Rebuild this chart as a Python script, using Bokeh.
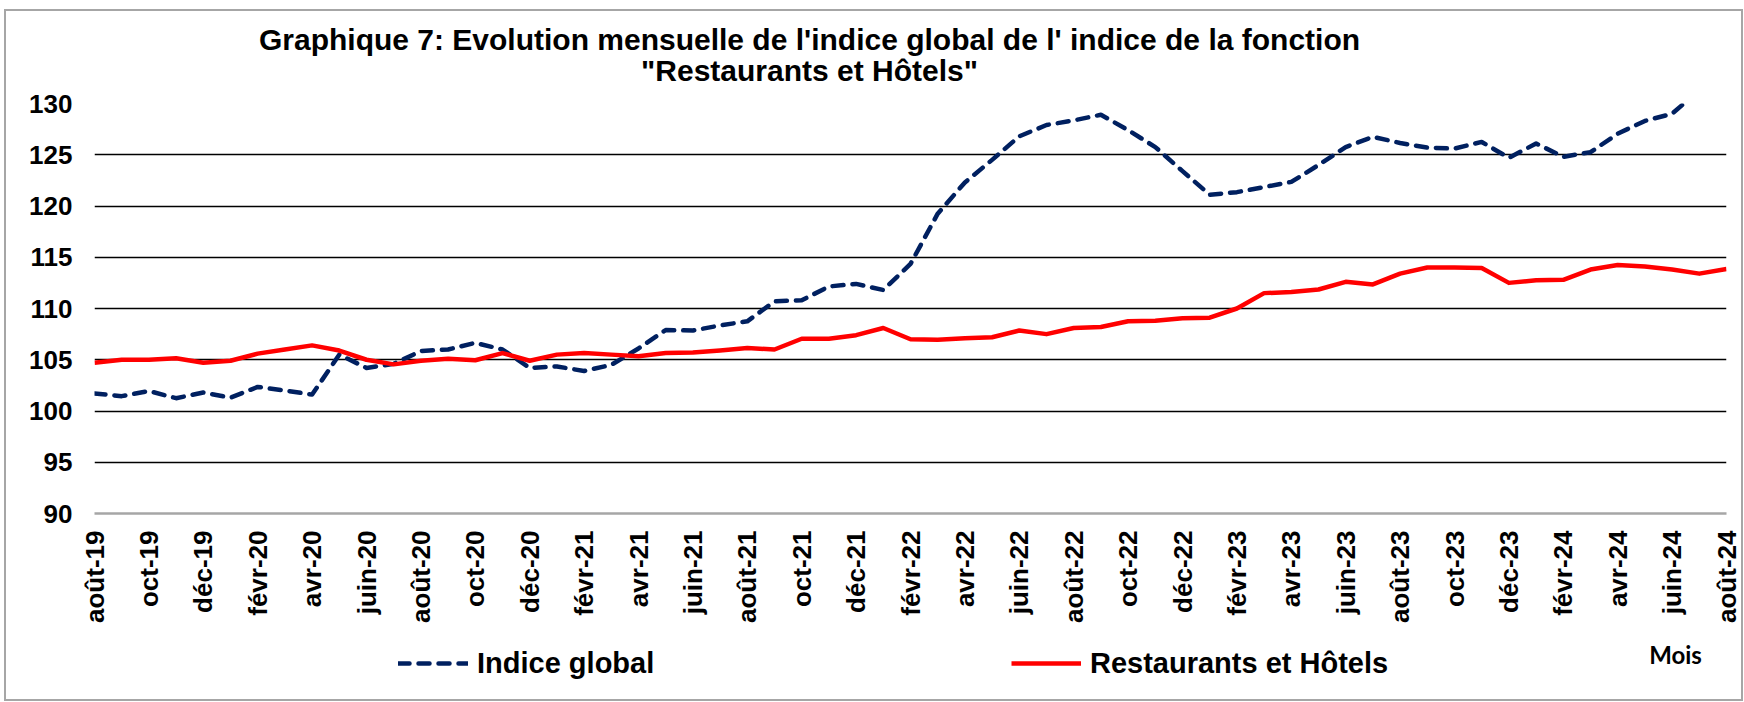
from bokeh.plotting import figure
from bokeh.layouts import column
from bokeh.models import Range1d, FixedTicker, Label, Legend, LegendItem, InlineStyleSheet
from bokeh.embed import file_html
from bokeh.resources import INLINE

months = [
    "août-19", "sept-19", "oct-19", "nov-19", "déc-19",
    "janv-20", "févr-20", "mars-20", "avr-20", "mai-20", "juin-20", "juil-20", "août-20", "sept-20", "oct-20", "nov-20", "déc-20",
    "janv-21", "févr-21", "mars-21", "avr-21", "mai-21", "juin-21", "juil-21", "août-21", "sept-21", "oct-21", "nov-21", "déc-21",
    "janv-22", "févr-22", "mars-22", "avr-22", "mai-22", "juin-22", "juil-22", "août-22", "sept-22", "oct-22", "nov-22", "déc-22",
    "janv-23", "févr-23", "mars-23", "avr-23", "mai-23", "juin-23", "juil-23", "août-23", "sept-23", "oct-23", "nov-23", "déc-23",
    "janv-24", "févr-24", "mars-24", "avr-24", "mai-24", "juin-24", "juil-24", "août-24",
]

indice_global = [
    101.7, 101.45, 101.95, 101.25, 101.8,
    101.3, 102.35, 102.0, 101.6, 105.5, 104.2, 104.6, 105.85, 106.0, 106.65, 106.0, 104.2,
    104.35, 103.9, 104.5, 106.1, 107.9, 107.85, 108.35, 108.75, 110.7, 110.8, 112.15, 112.4,
    111.8, 114.35, 119.25, 122.3, 124.5, 126.8, 127.9, 128.35, 128.9, 127.4, 125.75, 123.4,
    121.1, 121.35, 121.85, 122.35, 124.0, 125.75, 126.75, 126.15, 125.7, 125.6, 126.25, 124.7,
    126.1, 124.8, 125.25, 127.05, 128.3, 129.0, 131.3, 131.8,
]

restaurants_hotels = [
    104.7, 105.0, 105.0, 105.15, 104.7,
    104.9, 105.6, 106.0, 106.4, 105.9, 105.0, 104.55, 104.9, 105.1, 104.95, 105.65, 104.9,
    105.5, 105.65, 105.5, 105.35, 105.65, 105.7, 105.9, 106.15, 106.0, 107.05, 107.05, 107.4,
    108.1, 107.0, 106.95, 107.1, 107.2, 107.85, 107.5, 108.1, 108.2, 108.75, 108.8, 109.05,
    109.1, 110.0, 111.5, 111.6, 111.85, 112.6, 112.35, 113.4, 114.0, 114.0, 113.95, 112.5,
    112.75, 112.8, 113.8, 114.25, 114.1, 113.8, 113.4, 113.85,
]

y_ticks = [90, 95, 100, 105, 110, 115, 120, 125, 130]

title_line1 = "Graphique 7: Evolution mensuelle de l'indice global de l' indice de la fonction"
title_line2 = '"Restaurants et Hôtels"'
x_title = "Mois"
series_names = ["Indice global", "Restaurants et Hôtels"]

FONT = "Liberation Sans"
BLUE = "#002060"
RED = "#ff0000"
W = 1744
BL, BR = 94, 18            # left / right borders shared by the stacked figures
H_TOP, H_MAIN, H_BOT = 88, 540, 74

x = list(range(len(months)))


def strip(h):
    # text band; x in page pixels (frame aligned with the main chart's frame)
    f = figure(width=W, height=h, output_backend="svg", toolbar_location=None,
               x_axis_type=None, y_axis_type=None, min_border=0,
               min_border_left=BL, min_border_right=BR,
               x_range=Range1d(BL, W - BR), y_range=Range1d(0, h))
    f.outline_line_color = None
    f.background_fill_color = "white"
    f.border_fill_color = "white"
    return f


# ---- title band
pt = strip(H_TOP)
for txt, yy in [(title_line1, 49.0), (title_line2, 18.0)]:
    pt.add_layout(Label(x=809, y=yy, text=txt, text_align="center", text_baseline="alphabetic",
                        text_font=FONT, text_font_style="bold", text_font_size="30px",
                        text_color="black"))

# ---- main chart
p = figure(width=W, height=H_MAIN, output_backend="svg", toolbar_location=None,
           x_range=Range1d(0, len(months) - 1), y_range=Range1d(90, 130),
           min_border_left=BL, min_border_right=BR, min_border_top=15, min_border_bottom=115)
p.outline_line_color = None
p.background_fill_color = "white"
p.border_fill_color = "white"

p.xgrid.grid_line_color = None
p.ygrid.ticker = FixedTicker(ticks=y_ticks)
p.ygrid.grid_line_color = "black"
p.ygrid.grid_line_width = 1.3

p.yaxis.ticker = FixedTicker(ticks=y_ticks)
p.yaxis.axis_line_color = None
p.yaxis.major_tick_line_color = None
p.yaxis.minor_tick_line_color = None
p.yaxis.major_tick_out = 0
p.yaxis.major_label_standoff = 22
p.yaxis.major_label_text_font = FONT
p.yaxis.major_label_text_font_style = "bold"
p.yaxis.major_label_text_font_size = "26px"
p.yaxis.major_label_text_color = "black"

even = [i for i in x if i % 2 == 0]
p.xaxis.ticker = FixedTicker(ticks=even)
p.xaxis.major_label_overrides = {i: months[i] for i in even}
p.xaxis.major_label_orientation = 3.14159265 / 2
p.xaxis.axis_line_color = "#a6a6a6"
p.xaxis.axis_line_width = 2.5
p.xaxis.major_tick_line_color = None
p.xaxis.minor_tick_line_color = None
p.xaxis.major_tick_out = 0
p.xaxis.major_label_standoff = 17
p.xaxis.major_label_text_font = FONT
p.xaxis.major_label_text_font_style = "bold"
p.xaxis.major_label_text_font_size = "26px"
p.xaxis.major_label_text_color = "black"

blue_style = dict(line_color=BLUE, line_width=4.5, line_dash="11 9", line_cap="round", line_join="round")
red_style = dict(line_color=RED, line_width=4.5, line_join="round")
p.line(x, indice_global, **blue_style)
p.line(x, restaurants_hotels, **red_style)

# ---- legend band (series re-plotted here only to supply legend swatches; out of view)
pb = strip(H_BOT)
sw_blue = pb.line(x, indice_global, **blue_style)
sw_red = pb.line(x, restaurants_hotels, **red_style)
for name, rend, lx in [(series_names[0], sw_blue, 398 - BL), (series_names[1], sw_red, 1011 - BL)]:
    lg = Legend(items=[LegendItem(label=name, renderers=[rend])], location=(lx, 22),
                orientation="horizontal", glyph_width=70, glyph_height=34, label_height=34,
                label_standoff=9, padding=0, margin=0, spacing=0,
                border_line_color=None, background_fill_alpha=0,
                label_text_font=FONT, label_text_font_style="bold", label_text_font_size="29px",
                label_text_color="black")
    pb.add_layout(lg, "center")
pb.add_layout(Label(x=1675, y=48, text=x_title, text_align="center", text_baseline="alphabetic",
                    text_font="Lato", text_font_style="bold", text_font_size="24px", text_color="black"))

frame_css = InlineStyleSheet(css="""
:host { position: relative; }
:host::after {
  content: ''; position: absolute; left: 4px; top: 9px; right: 1px; bottom: 1px;
  border: 2px solid #a6a6a6; pointer-events: none; z-index: 100;
}
""")

layout = column(pt, p, pb, spacing=0, stylesheets=[frame_css])

open("out.html", "w").write(file_html(layout, INLINE))
